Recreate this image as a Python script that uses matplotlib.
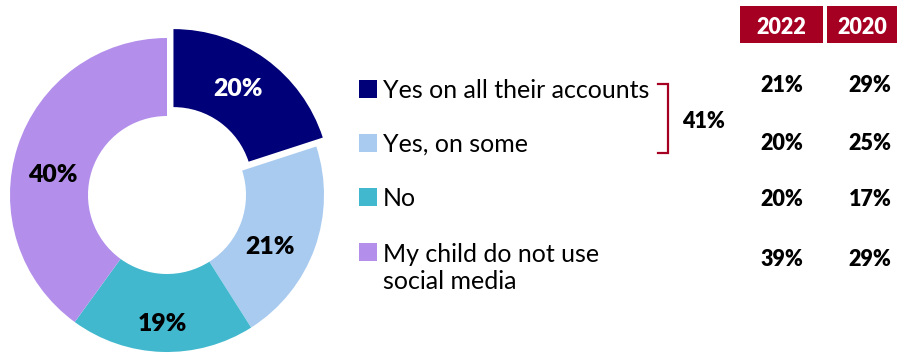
import matplotlib
matplotlib.use("Agg")
import matplotlib.pyplot as plt
from matplotlib.patches import Rectangle

plt.rcParams['font.family'] = ['Lato', 'DejaVu Sans']
BOLD = 800

# Survey results
categories = ["Yes on all their accounts", "Yes, on some", "No",
              "My child do not use\nsocial media"]
share_2022_donut = [20, 21, 19, 40]
colors = ["#000078", "#A9CBF0", "#41B8CE", "#B38FEB"]
label_colors = ["white", "black", "black", "black"]
year_headers = ["2022", "2020"]
table_2022 = ["21%", "20%", "20%", "39%"]
table_2020 = ["29%", "25%", "17%", "29%"]
combined_label = "41%"

W, H = 902, 358
fig = plt.figure(figsize=(W / 100, H / 100), dpi=100)
ax = fig.add_axes([0, 0, 1, 1])

def py(y):
    return H - y

cx, cy, r = 167, py(195), 157
wedges, texts, autotexts = ax.pie(
    share_2022_donut, colors=colors, startangle=90, counterclock=False,
    center=(cx, cy), radius=r, explode=[11, 0, 0, 0],
    wedgeprops=dict(width=78, linewidth=0),
    autopct='%.0f%%', pctdistance=0.76,
    textprops=dict(fontsize=17.8, fontweight=BOLD))

# value labels sit where the original layout engine put them
label_pos = [(238, 89), (270, 247), (162, 324), (53, 175)]
for t, c, (lx, ly) in zip(autotexts, label_colors, label_pos):
    t.set_color(c)
    t.set_position((lx, py(ly)))

ax.set_xlim(0, W)
ax.set_ylim(0, H)
ax.set_aspect('equal')
ax.axis('off')

# Legend rows
row_y = [89, 143, 197, 252]
for name, col, y in zip(categories, colors, row_y):
    ax.add_patch(Rectangle((359, py(y) - 9), 18, 18, color=col, lw=0))
    ty = py(y) - 1 if "\n" not in name else py(y + 15) - 1
    ax.text(383, ty, name, fontsize=18, va='center', ha='left',
            color='black', linespacing=1.2)

# Bracket grouping the two "yes" answers
red = "#A50021"
ax.plot([658, 668, 668, 658], [py(84), py(84), py(153), py(153)],
        color=red, lw=1.6, solid_joinstyle='miter')
ax.text(703, py(121), combined_label, fontsize=15.5, fontweight=BOLD,
        ha='center', va='center')

# Year comparison table
col_x = [782, 870]
boxes = [(740, 823), (827, 897)]
for hdr, (x0, x1), xc in zip(year_headers, boxes, col_x):
    ax.add_patch(Rectangle((x0, py(43)), x1 - x0, 37, color=red, lw=0))
    ax.text((x0 + x1) / 2, py(27), hdr, fontsize=15.5, fontweight=BOLD,
            color='white', ha='center', va='center')

val_y = [85, 144, 199, 259]
for v22, v20, y in zip(table_2022, table_2020, val_y):
    ax.text(col_x[0], py(y), v22, fontsize=15.5, fontweight=BOLD,
            ha='center', va='center')
    ax.text(col_x[1], py(y), v20, fontsize=15.5, fontweight=BOLD,
            ha='center', va='center')

fig.savefig("out.png", dpi=100)
